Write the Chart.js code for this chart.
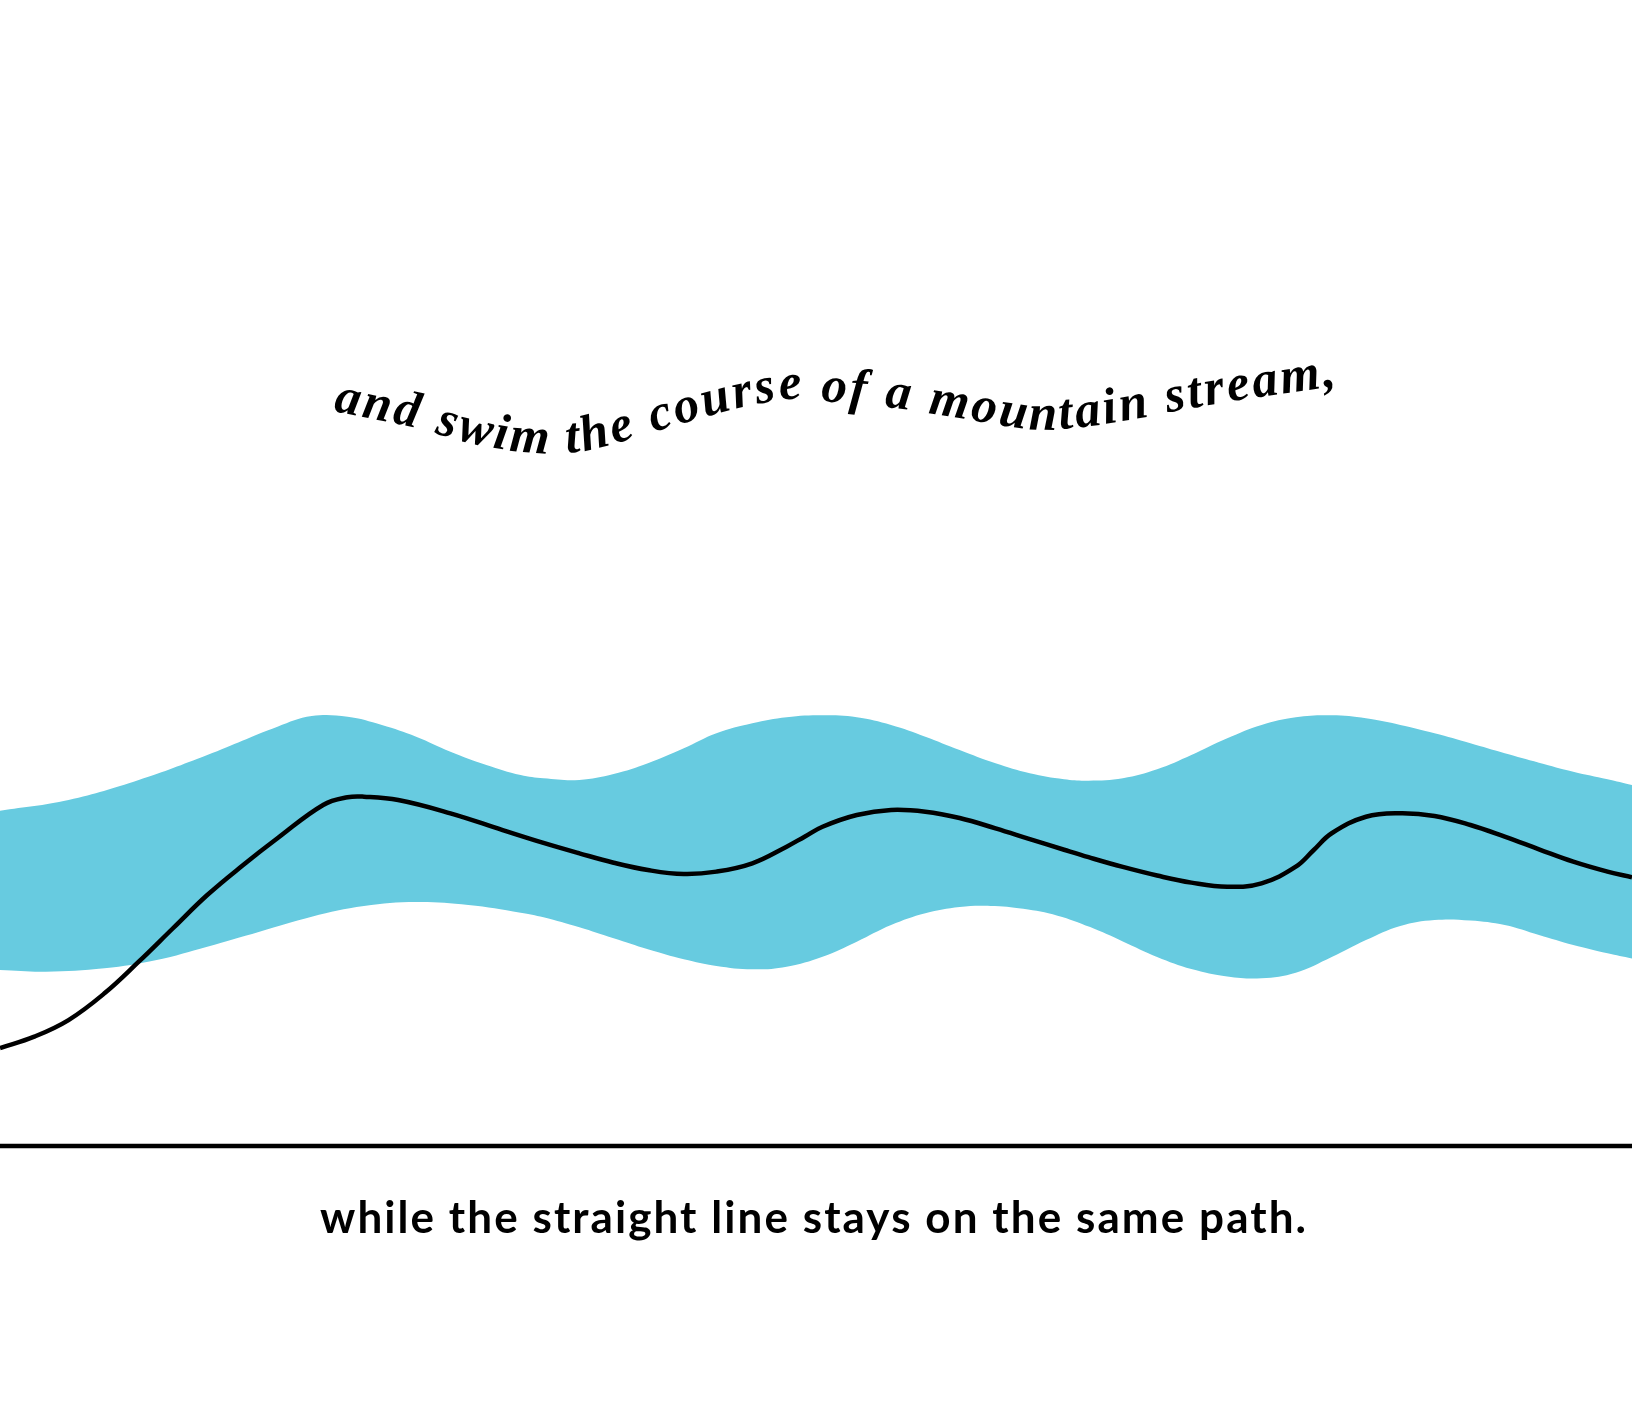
<!DOCTYPE html>
<html>
<head>
<meta charset="utf-8">
<title>mountain stream</title>
<script src="https://cdn.jsdelivr.net/npm/chart.js"></script>
<style>
  html, body { margin: 0; padding: 0; background: #ffffff; }
  #wrap { width: 1632px; height: 1419px; position: relative; }
</style>
</head>
<body>
<div id="wrap"><canvas id="streamChart"></canvas></div>
<script>
// x: distance along the page (0 - 100), y: height above the straight line (0 - 100)

// upper edge of the stream
const streamTopX = [0, 4.2, 8.5, 12.7, 17.0, 19.1, 21.3, 23.4, 25.5, 27.6, 29.8, 31.9, 33.3, 35.5, 37.6, 39.7, 41.9, 43.9, 46.1, 48.2, 50.4, 52.5, 54.6, 56.7, 58.8, 61.0, 63.1, 65.2, 66.7, 68.8, 70.9, 73.0, 75.2, 77.3, 79.4, 81.6, 83.7, 85.8, 87.9, 90.1, 92.2, 94.3, 96.4, 98.5, 100];
const streamTopY = [29.26, 30.20, 31.94, 34.12, 36.59, 37.52, 37.46, 36.74, 35.72, 34.41, 33.25, 32.37, 32.09, 31.94, 32.45, 33.39, 34.70, 36.01, 36.88, 37.41, 37.58, 37.41, 36.74, 35.72, 34.55, 33.39, 32.52, 32.00, 31.88, 32.09, 32.87, 34.12, 35.58, 36.74, 37.41, 37.58, 37.32, 36.74, 36.01, 35.14, 34.27, 33.45, 32.66, 32.00, 31.50];

// lower edge of the stream
const streamBottomX = [0, 2.8, 6.4, 9.6, 12.7, 15.9, 19.1, 22.3, 25.5, 28.7, 31.9, 33.3, 35.5, 37.6, 39.7, 41.9, 43.9, 46.1, 48.2, 50.4, 52.5, 54.6, 56.7, 58.8, 60.7, 62.7, 64.8, 66.8, 68.8, 70.9, 73.0, 75.2, 77.3, 79.4, 81.6, 83.7, 85.8, 87.9, 90.1, 92.2, 94.3, 96.4, 98.5, 100];
const streamBottomY = [15.36, 15.21, 15.51, 16.23, 17.39, 18.70, 20.01, 20.94, 21.29, 21.03, 20.36, 19.96, 19.08, 18.12, 17.16, 16.29, 15.71, 15.42, 15.65, 16.52, 17.83, 19.28, 20.31, 20.86, 20.95, 20.70, 20.10, 19.10, 17.85, 16.50, 15.45, 14.80, 14.63, 15.12, 16.49, 17.97, 19.20, 19.72, 19.68, 19.28, 18.41, 17.54, 16.82, 16.36];

// the line that swims the stream
const swimmerX = [0, 2.1, 4.2, 6.4, 8.5, 10.6, 12.7, 14.9, 17.0, 19.8, 21.3, 22.3, 24.4, 27.6, 30.8, 33.3, 35.5, 37.6, 39.7, 41.9, 43.9, 46.1, 48.2, 49.3, 50.4, 52.5, 54.6, 56.7, 58.8, 61.0, 63.1, 65.2, 66.7, 68.8, 70.9, 73.0, 75.2, 77.3, 79.4, 80.5, 81.6, 83.7, 85.8, 87.9, 90.1, 92.2, 94.3, 96.4, 98.5, 100];
const swimmerY = [8.55, 9.54, 10.99, 13.32, 16.08, 19.00, 21.90, 24.52, 26.85, 29.76, 30.43, 30.48, 30.19, 29.03, 27.57, 26.45, 25.54, 24.72, 24.08, 23.73, 23.94, 24.67, 26.12, 26.99, 27.86, 28.88, 29.32, 29.17, 28.62, 27.72, 26.78, 25.85, 25.20, 24.35, 23.60, 22.98, 22.62, 22.92, 24.37, 25.83, 27.29, 28.73, 29.03, 28.80, 28.01, 26.99, 25.89, 24.81, 23.94, 23.45];

// the straight line
const straightX = [0, 100];
const straightY = [0, 0];

const curvedCaption = 'and swim the course of a mountain stream,';
const bottomCaption = 'while the straight line stays on the same path.';

function toPoints(xs, ys) {
  return xs.map((x, i) => ({ x: x, y: ys[i] }));
}

// baseline of the wavy caption (page pixels)
const captionPath = [
  [333, 411], [411, 427], [479, 445], [536, 453], [583, 451], [630, 439],
  [687, 422], [739, 408], [791, 399], [833, 402], [895, 408], [947, 416],
  [1030, 429], [1082, 427], [1134, 419], [1176, 411], [1239, 400], [1301, 391], [1337, 386]
];

// Catmull-Rom samples of the caption path
function samplePath(pts) {
  const out = [];
  for (let i = 0; i < pts.length - 1; i++) {
    const p0 = pts[Math.max(i - 1, 0)], p1 = pts[i], p2 = pts[i + 1], p3 = pts[Math.min(i + 2, pts.length - 1)];
    for (let k = 0; k < 30; k++) {
      const t = k / 30, t2 = t * t, t3 = t2 * t;
      const x = 0.5 * ((2 * p1[0]) + (-p0[0] + p2[0]) * t + (2 * p0[0] - 5 * p1[0] + 4 * p2[0] - p3[0]) * t2 + (-p0[0] + 3 * p1[0] - 3 * p2[0] + p3[0]) * t3);
      const y = 0.5 * ((2 * p1[1]) + (-p0[1] + p2[1]) * t + (2 * p0[1] - 5 * p1[1] + 4 * p2[1] - p3[1]) * t2 + (-p0[1] + 3 * p1[1] - 3 * p2[1] + p3[1]) * t3);
      out.push([x, y]);
    }
  }
  out.push(pts[pts.length - 1].slice());
  let len = 0;
  out[0].push(0);
  for (let i = 1; i < out.length; i++) {
    len += Math.hypot(out[i][0] - out[i - 1][0], out[i][1] - out[i - 1][1]);
    out[i].push(len);
  }
  return out;
}

function pointAt(samples, s) {
  for (let i = 1; i < samples.length; i++) {
    if (samples[i][2] >= s) {
      const a = samples[i - 1], b = samples[i];
      const f = (s - a[2]) / ((b[2] - a[2]) || 1);
      return { x: a[0] + (b[0] - a[0]) * f, y: a[1] + (b[1] - a[1]) * f, angle: Math.atan2(b[1] - a[1], b[0] - a[0]) };
    }
  }
  const a = samples[samples.length - 2], b = samples[samples.length - 1];
  return { x: b[0], y: b[1], angle: Math.atan2(b[1] - a[1], b[0] - a[0]) };
}

function drawCurvedText(ctx, text, path) {
  const samples = samplePath(path);
  const total = samples[samples.length - 1][2];
  ctx.save();
  ctx.font = 'italic bold 51px "Liberation Serif", "DejaVu Serif", serif';
  ctx.fillStyle = '#000000';
  ctx.textBaseline = 'alphabetic';
  const chars = [...text];
  const widths = chars.map(ch => ctx.measureText(ch).width);
  const used = widths.reduce((a, b) => a + b, 0);
  const gap = (total - used) / (chars.length - 1);
  let s = 0;
  chars.forEach((ch, i) => {
    const p = pointAt(samples, s + widths[i] / 2);
    ctx.save();
    ctx.translate(p.x, p.y);
    ctx.rotate(p.angle);
    ctx.fillText(ch, -widths[i] / 2, 0);
    ctx.restore();
    s += widths[i] + gap;
  });
  ctx.restore();
}

function drawFlatText(ctx, text, left, right, baseline) {
  ctx.save();
  ctx.font = 'bold 44px Lato, "Noto Sans", sans-serif';
  ctx.fillStyle = '#000000';
  ctx.textBaseline = 'alphabetic';
  ctx.textAlign = 'left';
  const w = ctx.measureText(text).width;
  if ('letterSpacing' in ctx) {
    ctx.letterSpacing = ((right - left) - w) / (text.length - 1) + 'px';
  }
  ctx.fillText(text, left, baseline);
  ctx.restore();
}

const captionPlugin = {
  id: 'captions',
  afterDraw(chart) {
    const ctx = chart.ctx;
    drawCurvedText(ctx, curvedCaption, captionPath);
    drawFlatText(ctx, bottomCaption, 320, 1306, chart.chartArea.bottom + 87);
  }
};

const ctx = document.getElementById('streamChart').getContext('2d');
new Chart(ctx, {
  type: 'line',
  data: {
    datasets: [
      {
        label: 'swimmer',
        data: toPoints(swimmerX, swimmerY),
        borderColor: '#000000',
        borderWidth: 4.5,
        fill: false,
        tension: 0.4,
        clip: false
      },
      {
        label: 'straight line',
        data: toPoints(straightX, straightY),
        borderColor: '#000000',
        borderWidth: 4.5,
        fill: false,
        clip: false
      },
      {
        label: 'stream top',
        data: toPoints(streamTopX, streamTopY),
        borderWidth: 0,
        borderColor: 'rgba(0,0,0,0)',
        backgroundColor: '#67cbe0',
        fill: '+1',
        tension: 0.4
      },
      {
        label: 'stream bottom',
        data: toPoints(streamBottomX, streamBottomY),
        borderWidth: 0,
        borderColor: 'rgba(0,0,0,0)',
        fill: false,
        tension: 0.4
      }
    ]
  },
  options: {
    responsive: true,
    maintainAspectRatio: false,
    animation: false,
    layout: { padding: { top: 0, left: 0, right: 0, bottom: 273 } },
    elements: { point: { radius: 0, hoverRadius: 0 } },
    scales: {
      x: { type: 'linear', min: 0, max: 100, display: false },
      y: { min: 0, max: 100, display: false }
    },
    plugins: {
      legend: { display: false },
      tooltip: { enabled: false }
    }
  },
  plugins: [captionPlugin]
});
</script>
</body>
</html>
